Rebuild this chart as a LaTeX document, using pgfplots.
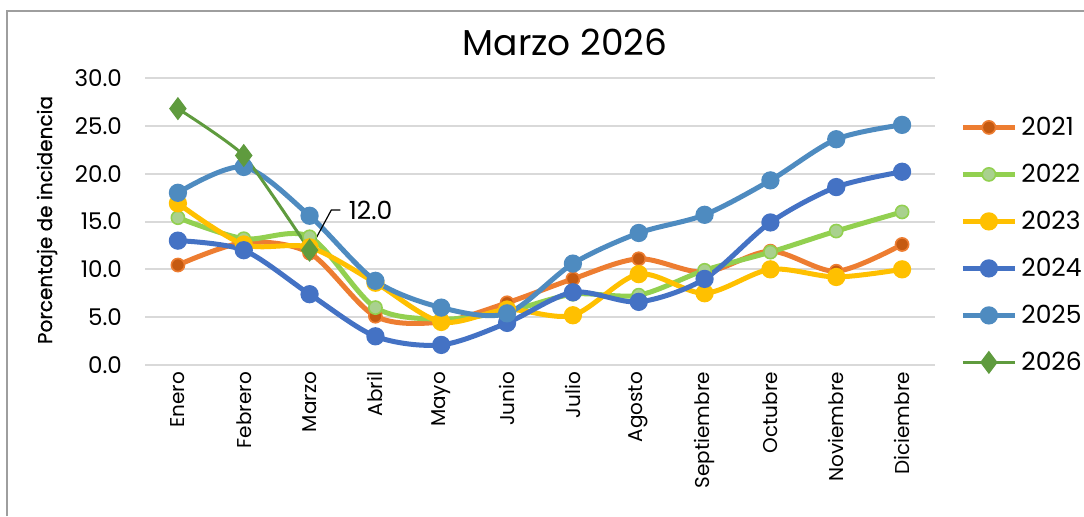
\documentclass[border=0pt]{standalone}
\usepackage{pgfplots}
\pgfplotsset{compat=1.18}
\usepackage{fontspec}
\setmainfont{Poppins}
\newfontfamily\medfont{Poppins}[FakeBold=0.6]
\definecolor{c21}{HTML}{ED7D31}
\definecolor{c21m}{HTML}{C55A11}
\definecolor{c22}{HTML}{92D050}
\definecolor{c22m}{HTML}{A9D18E}
\definecolor{c23}{HTML}{FFC000}
\definecolor{c24}{HTML}{4472C4}
\definecolor{c25}{HTML}{4E8BC0}
\definecolor{c26}{HTML}{5F9B3E}
\definecolor{gridc}{HTML}{D9D9D9}
\begin{document}
\begin{tikzpicture}
\path[use as bounding box] (0,0) rectangle (542pt,258pt);
\draw[color=black!38, line width=0.6pt] (3.5pt,0) -- (3.5pt,252.5pt) -- (542pt,252.5pt);
\node[font=\fontsize{18}{22}\selectfont] at (282.5pt,237pt) {Marzo 2026};
\node[rotate=90, font=\medfont\fontsize{10}{12}\selectfont] at (23.5pt,148pt) {Porcentaje de incidencia};
\begin{axis}[
  at={(72.5pt,75.5pt)}, anchor=south west,
  scale only axis, width=395pt, height=143.5pt,
  xmin=-0.5, xmax=11.5, ymin=0, ymax=30,
  ytick={0,5,...,30},
  yticklabel style={/pgf/number format/.cd, fixed, fixed zerofill, precision=1, /tikz/.cd, font=\fontsize{11.5}{13}\selectfont, xshift=-8pt},
  /pgf/number format/assume math mode=true,
  xtick={0,...,11},
  xticklabels={Enero,Febrero,Marzo,Abril,Mayo,Junio,Julio,Agosto,Septiembre,Octubre,Noviembre,Diciembre},
  xticklabel style={rotate=90, anchor=east, font=\fontsize{10}{12}\selectfont},
  ymajorgrids, grid style={gridc, line width=1pt},
  axis line style={draw=none}, tick style={draw=none},
  legend cell align=left,
  legend style={draw=none, fill=none, at={(1,1)}, anchor=north west, xshift=12.5pt, yshift=-12.75pt,
    inner sep=0pt, row sep=0pt,
    nodes={inner sep=2pt, minimum height=23.5pt, font=\fontsize{12.5}{14}\selectfont}},
  legend image code/.code={\draw[mark repeat=2, mark phase=2] plot coordinates {(0pt,0pt) (13pt,0pt) (26pt,0pt)};},
  every axis plot/.append style={smooth},
]
\addplot[color=c21, line width=2.5pt, mark=*, mark size=3.3pt, mark options={fill=c21m, draw=c21, line width=0.8pt}]
coordinates {(0,10.45) (1,12.8) (2,11.7) (3,5.1) (4,4.5) (5,6.5) (6,9.0) (7,11.1) (8,9.7) (9,11.9) (10,9.8) (11,12.6)};
\addlegendentry{2021}
\addplot[color=c22, line width=2.5pt, mark=*, mark size=3.3pt, mark options={fill=c22m, draw=c22, line width=0.8pt}]
coordinates {(0,15.4) (1,13.2) (2,13.4) (3,6.0) (4,4.8) (5,5.6) (6,7.4) (7,7.3) (8,9.9) (9,11.8) (10,14.0) (11,16.0)};
\addlegendentry{2022}
\addplot[color=c23, line width=2.5pt, mark=*, mark size=3.3pt, mark options={fill=c23, draw=c23}]
coordinates {(0,16.9) (1,12.6) (2,12.3) (3,8.6) (4,4.5) (5,5.8) (6,5.2) (7,9.5) (8,7.5) (9,10.0) (10,9.2) (11,10.0)};
\addlegendentry{2023}
\addplot[color=c24, line width=2.5pt, mark=*, mark size=3.3pt, mark options={fill=c24, draw=c24}]
coordinates {(0,13.0) (1,12.0) (2,7.4) (3,3.0) (4,2.1) (5,4.4) (6,7.6) (7,6.6) (8,9.0) (9,14.9) (10,18.6) (11,20.2)};
\addlegendentry{2024}
\addplot[color=c25, line width=2.5pt, mark=*, mark size=3.3pt, mark options={fill=c25, draw=c25}]
coordinates {(0,18.0) (1,20.7) (2,15.6) (3,8.8) (4,6.0) (5,5.4) (6,10.6) (7,13.8) (8,15.7) (9,19.3) (10,23.6) (11,25.1)};
\addlegendentry{2025}
\addplot[color=c26, line width=1.5pt, mark=diamond*, mark size=4.6pt, mark options={fill=c26, draw=c26}, tension=0.3]
coordinates {(0,26.8) (1,21.9) (2,12.0)};
\addlegendentry{2026}
\draw[black, line width=0.6pt] (axis cs:2,12.0) -- (axis cs:2.33,16.2) -- ++(4.5pt,0pt) node[right, inner sep=4pt, font=\fontsize{12.5}{14}\selectfont] {12.0};
\end{axis}
\end{tikzpicture}
\end{document}
